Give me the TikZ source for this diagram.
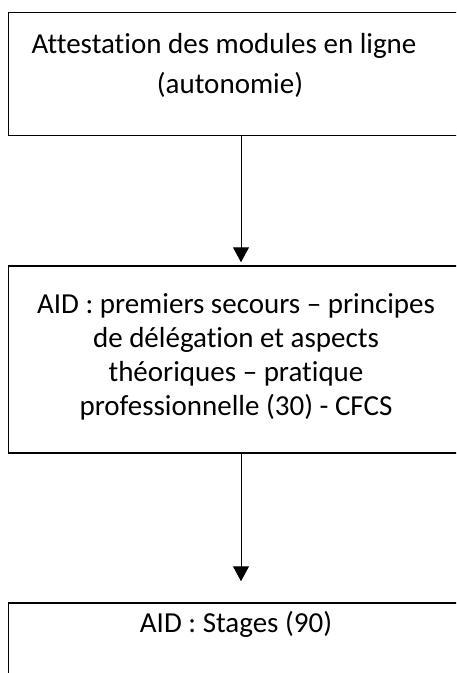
\documentclass[tikz,border=0pt]{standalone}
\usepackage{fontspec}
\setmainfont{Carlito}[Ligatures=NoCommon]
\usetikzlibrary{arrows.meta}
\tikzset{
  boxnode/.style={draw=black, line width=1.5pt, rectangle, minimum width=453.5pt, inner sep=0pt},
  txt/.style={font=\fontsize{29pt}{34pt}\selectfont, inner sep=0pt, align=center, text=black},
  arr/.style={draw=black, line width=1pt, -{Triangle[length=15pt,width=16pt]}}
}
\begin{document}
\begin{tikzpicture}[x=1pt,y=-1pt]
\useasboundingbox (0,0) rectangle (456,673);
\begin{scope}
\clip (0,0) rectangle (456,673);
\node[boxnode, minimum height=123pt] (box1) at (235.25,74) {};
\node[boxnode, minimum height=187pt] (box2) at (235.25,359.5) {};
\node[boxnode, minimum height=117pt] (box3) at (235.25,661.5) {};
\node[txt, anchor=base] (t1a) at (224,53) {Attestation des modules en ligne};
\node[txt, anchor=base] (t1b) at (230,93) {(autonomie)};
\node[txt, anchor=north] (t2) at (236,289.2) {\strut AID : premiers secours – principes\\de délégation et aspects\\théoriques – pratique\\professionnelle (30) - CFCS};
\node[txt, anchor=base] (t3) at (236,632) {AID : Stages (90)};
\draw[arr, shorten >=3pt] ([xshift=5.75pt]box1.south) -- ([xshift=5.75pt]box2.north);
\draw[arr, shorten >=21pt] ([xshift=5.75pt]box2.south) -- ([xshift=5.75pt]box3.north);
\end{scope}
\end{tikzpicture}
\end{document}
